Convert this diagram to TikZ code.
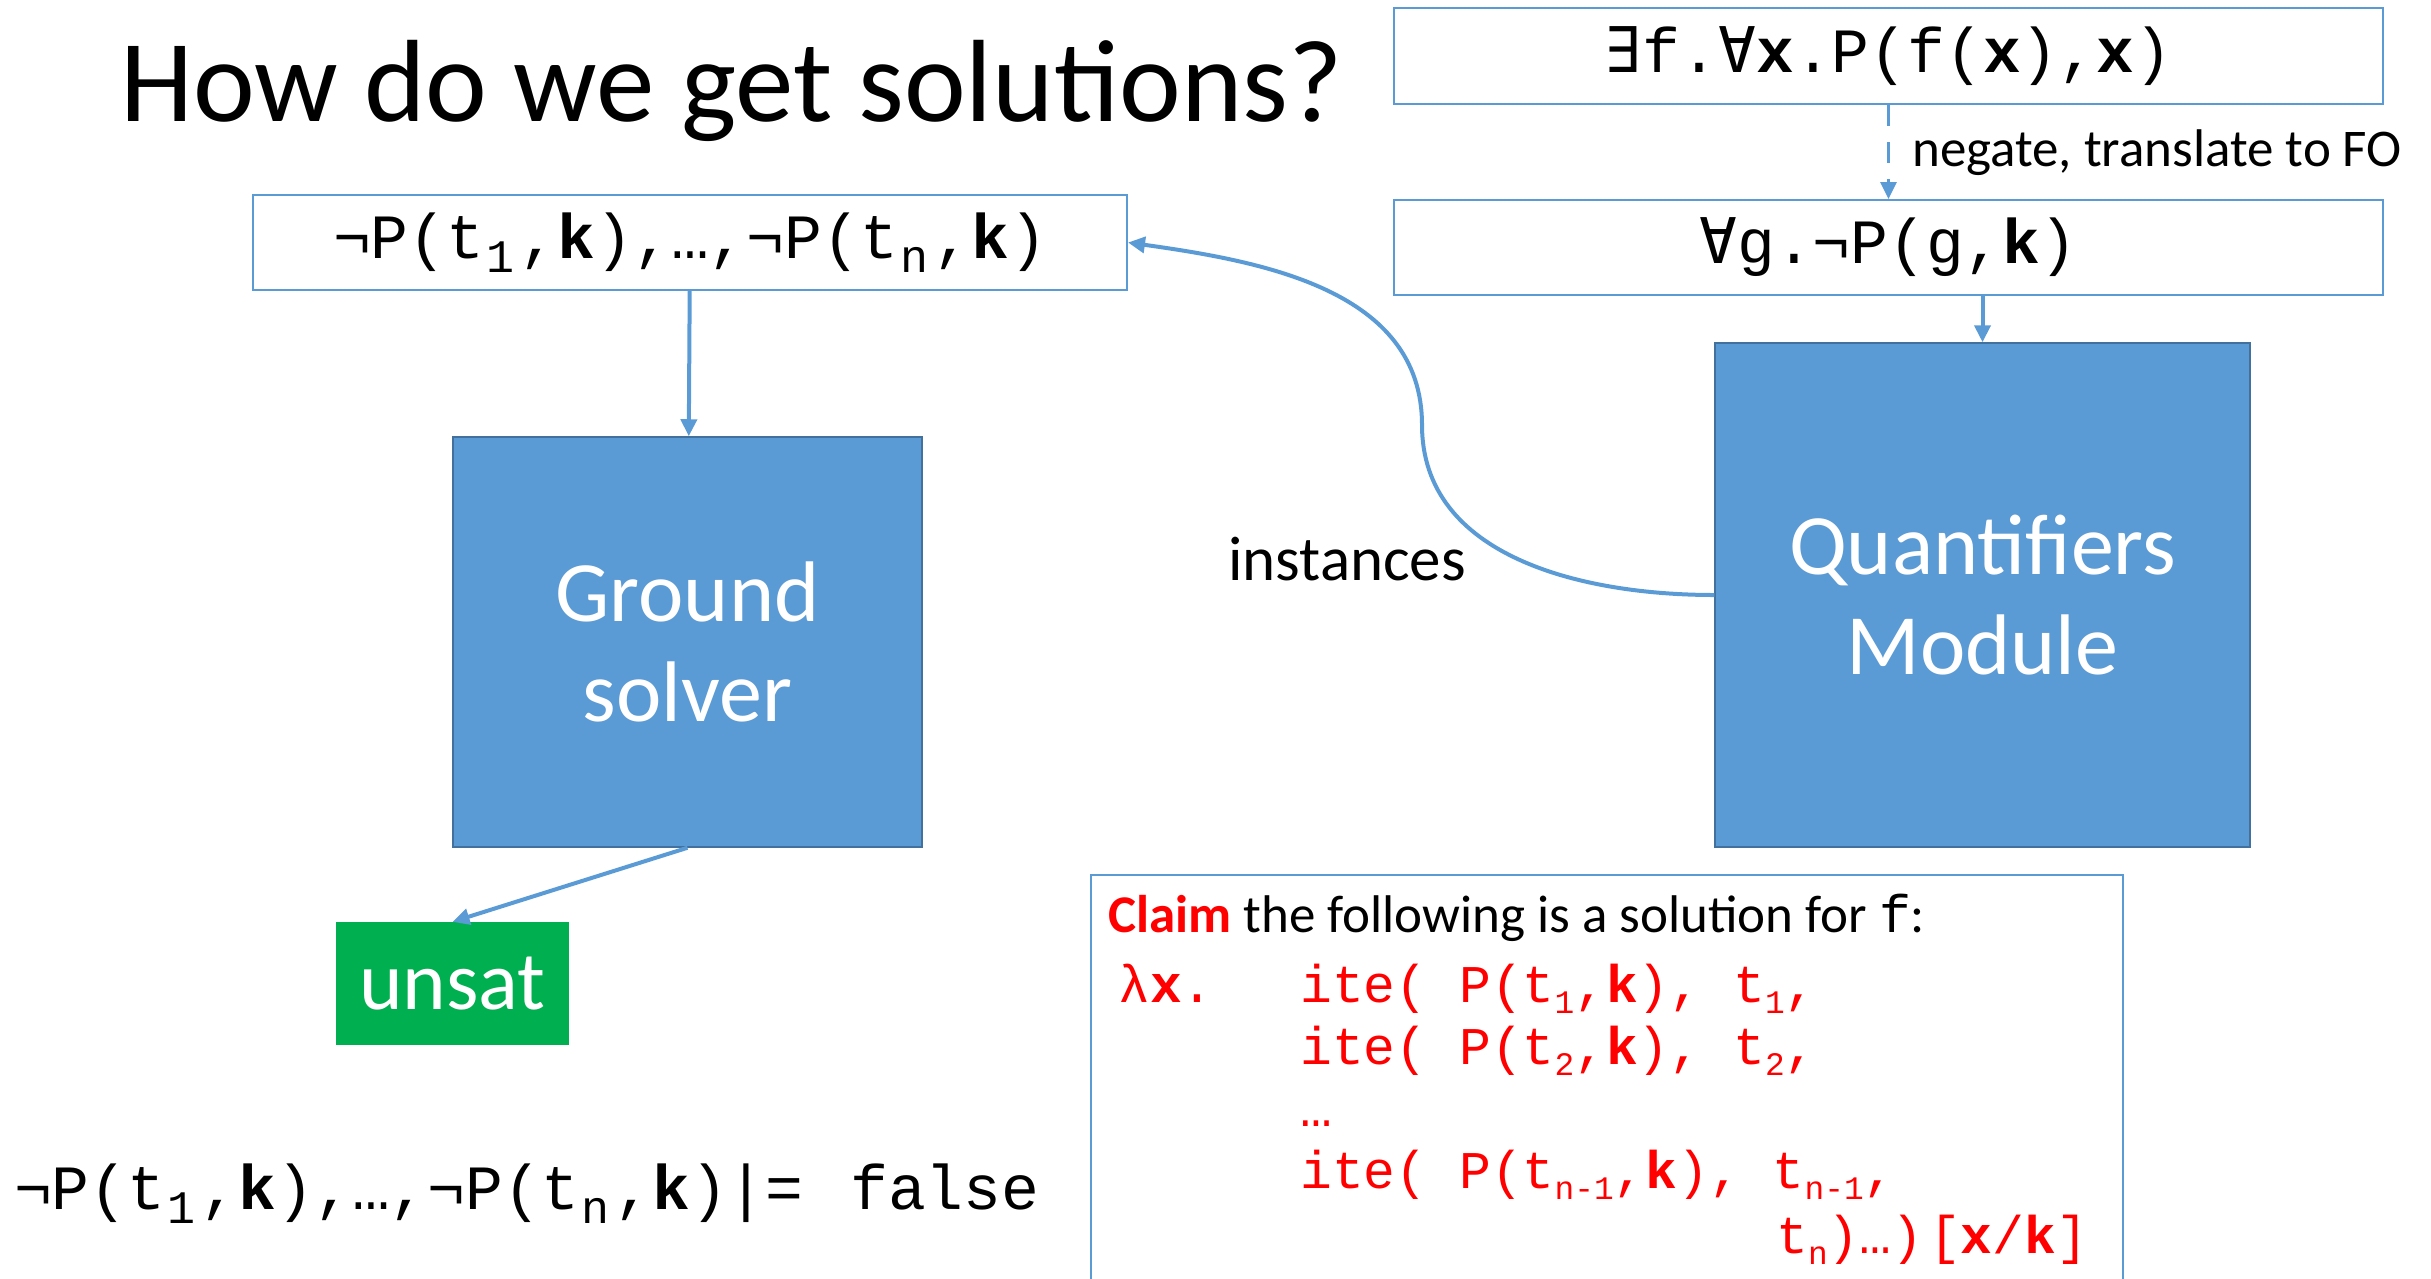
\documentclass[tikz,border=0pt]{standalone}
\usepackage{fontspec}
\usepackage{graphicx}
\setmainfont{Carlito}
\newfontfamily\mono{Liberation Mono}
\newfontfamily\dvmono{DejaVu Sans Mono}
\usetikzlibrary{arrows.meta}

\definecolor{accblue}{HTML}{5B9BD5}
\definecolor{accedge}{HTML}{41719C}
\definecolor{okgreen}{HTML}{00B050}

% subscripts, bold variables and quantifier symbols
\newcommand\sub[1]{\raisebox{-0.21em}{\scalebox{0.62}{#1}}}
\newcommand\subw[1]{\kern0.04em\raisebox{-0.23em}{\scalebox{0.74}{#1}}\kern0.08em}
\newcommand\bk{\textbf{k}}
\newcommand\bx{\textbf{x}}
\newcommand\qall{{\dvmono ∀}}
\newcommand\qex{{\dvmono ∃}}
\frenchspacing

\begin{document}
\begin{tikzpicture}[x=1pt,y=-1pt,
  formbox/.style={draw=accblue, line width=2pt, inner sep=0pt,
    font=\mono\fontsize{63}{70}\selectfont},
  module/.style={fill=accblue, draw=accedge, line width=1.5pt, text=white,
    align=center, inner sep=0pt, font=\fontsize{86}{100}\selectfont},
  conn/.style={draw=accblue, line width=4pt,
    -{Triangle[length=17pt,width=16pt]}},
  lbl/.style={anchor=base west, inner sep=0pt},
  code/.style={lbl, text=red, font=\mono\fontsize{53}{60}\selectfont}]

\useasboundingbox (0,0) rectangle (2431,1278);
\clip (0,0) rectangle (2431,1278);

% title
\node[lbl, font=\fontsize{117}{120}\selectfont] (title) at (120,121)
  {How do we get solutions?};

% formula boxes
\node[formbox, minimum width=989pt, minimum height=96pt] (top) at (1888.5,56)
  {\qex f.\qall\bx.P(f(\bx),\bx)};
\node[formbox, minimum width=989pt, minimum height=95pt] (neg) at (1888.5,247.5)
  {\qall g.¬P(g,\bk)};
\node[formbox, minimum width=874pt, minimum height=95pt] (inst) at (690,242.5)
  {¬P(t\subw{1},\bk),…,¬P(t\subw{n},\bk)};

% solver modules
\node[module, minimum width=469pt, minimum height=410pt] (ground) at (687.5,642)
  {Ground\\solver};
\node[module, minimum width=535pt, minimum height=504pt] (quant) at (1982.5,595)
  {Quantifiers\\Module};
\node[fill=okgreen, text=white, inner sep=0pt, minimum width=233pt,
  minimum height=123pt, font=\fontsize{83}{90}\selectfont] (unsat) at (452.5,983.5)
  {unsat};

% labels
\node[lbl, font=\fontsize{63}{70}\selectfont] (instlbl) at (1228,580) {instances};
\node[lbl, font=\fontsize{53}{60}\selectfont] (neglbl) at (1912,166)
  {negate, translate to FO};
\node[lbl, font=\mono\fontsize{63}{70}\selectfont] (entail) at (14,1209)
  {¬P(t\subw{1},\bk),…,¬P(t\subw{n},\bk)|=\kern9pt\ false};

% claimed solution
\node[draw=accblue, line width=2pt, anchor=north west, inner sep=0pt,
  minimum width=1032pt, minimum height=430pt] (claim) at (1090,874) {};
\node[lbl, font=\fontsize{53}{60}\selectfont] (claimhead) at (1108,932)
  {{\bfseries\color{red}Claim} the following is a solution for {\mono f}:};
\node[code] (lam) at (1118,1002) {λ\bx.};
\node[code] (c1) at (1300,1002) {ite( P(t\sub{1},\bk), t\sub{1},};
\node[code] (c2) at (1300,1064) {ite( P(t\sub{2},\bk), t\sub{2},};
\node[code] (c3) at (1300,1126) {…};
\node[code] (c4) at (1300,1188) {ite( P(t\sub{n-1},\bk), t\sub{n-1},};
\node[code] (c5) at (1776,1253) {t\sub{n})…)\kern6pt[\bx/\bk]};

% connectors
\draw[conn, line width=3pt, dash pattern=on 21pt off 16pt] (top) -- (neg);
\draw[conn] (quant.north |- neg.south) -- (quant.north);
\draw[conn] (inst) -- (ground);
\draw[conn] (ground.south) -- (unsat.north);
\coordinate (bend) at (1422,425);
\draw[conn] (quant.west) to[out=180,in=-90] (bend) to[out=90,in=-8] (inst.east);
\end{tikzpicture}
\end{document}
